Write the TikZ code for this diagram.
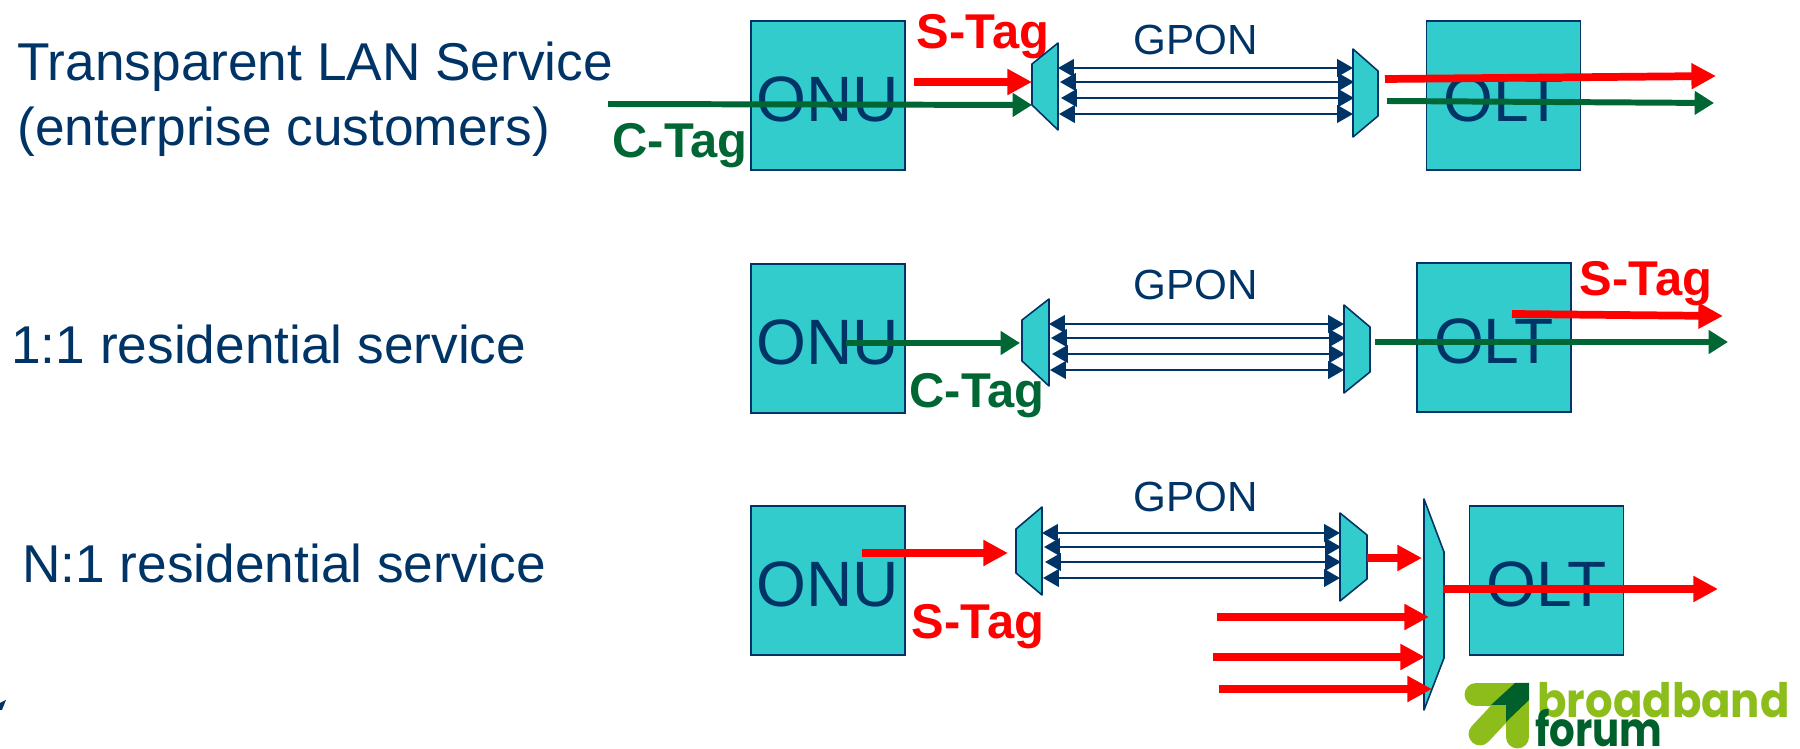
\documentclass[tikz,border=0pt]{standalone}
\usepackage{fontspec}
\setmainfont{Liberation Sans}
\newfontfamily\logofont[FakeStretch=0.85]{Poppins}
\newfontfamily\logowide[FakeStretch=0.915]{Poppins}
\usepackage{xcolor}
\usetikzlibrary{arrows.meta,positioning,calc}
\definecolor{navyblue}{HTML}{003366}
\definecolor{tealfill}{HTML}{33CCCC}
\definecolor{tagred}{HTML}{FF0000}
\definecolor{taggreen}{HTML}{006633}
\definecolor{logolight}{HTML}{8CBD1A}
\definecolor{logodark}{HTML}{00602B}
\begin{document}
\begin{tikzpicture}[
    x=0.02cm, y=-0.02cm,
    boxnode/.style={rectangle, draw=navyblue, fill=tealfill, line width=0.9pt, minimum width=3.08cm, minimum height=2.98cm, inner sep=0pt, text=navyblue, font=\fontsize{36.5}{36.5}\selectfont, text height=30pt, text depth=0pt},
    muxshape/.style={draw=navyblue, fill=tealfill, line width=0.9pt, line join=round},
    svctext/.style={anchor=west, inner sep=0pt, text=navyblue, font=\fontsize{30.3}{30.3}\selectfont},
    gponlabel/.style={inner sep=0pt, text=navyblue, font=\fontsize{24}{24}\selectfont},
    stag/.style={inner sep=0pt, text=tagred, font=\fontsize{27.8}{27.8}\selectfont\bfseries},
    ctag/.style={inner sep=0pt, text=taggreen, font=\fontsize{27.8}{27.8}\selectfont\bfseries},
    fiber/.style={navyblue, line width=1.2pt, {Triangle[length=9pt,width=10pt]}-{Triangle[length=9pt,width=10pt]}},
    redarr/.style={tagred, line width=4.4pt, -{Triangle[length=14pt,width=14pt]}},
    greenarr/.style={taggreen, line width=3.4pt, -{Triangle[length=11pt,width=13pt]}},
    logotext/.style={inner sep=0pt, anchor=base west}
]
    \useasboundingbox (0,0) rectangle (1800,749);

    % Service names
    \node[svctext] (svc1a) at (17, 67) {Transparent LAN Service};
    \node[svctext] (svc1b) at (17, 132) {(enterprise customers)};
    \node[svctext] (svc2) at (11, 344) {1:1 residential service};
    \node[svctext] (svc3) at (22, 563) {N:1 residential service};
    \fill[navyblue] (0,703) -- (6,700) -- (2,710) -- (0,710) -- cycle;

    % ONU and OLT
    \foreach \n/\t/\x/\y in {onu1/ONU/828/95.5, olt1/OLT/1503.5/95.5, onu2/ONU/828/338.5, olt2/OLT/1494/337.5, onu3/ONU/828/580.5, olt3/OLT/1546.5/580.5} {
        \node[boxnode] (\n) at (\x, \y) {\t};
    }

    % Tags
    \node[stag] (st1) at (983, 37) {S-Tag};
    \node[ctag] (ct1) at (680, 146) {C-Tag};
    \node[stag] (st2) at (1646, 284) {S-Tag};
    \node[ctag] (ct2) at (977, 396) {C-Tag};
    \node[stag] (st3) at (978, 627) {S-Tag};

    % GPON
    \foreach \n/\y in {g1/40, g2/285, g3/497} {
        \node[gponlabel] (\n) at (1196, \y) {GPON};
    }

    % Muxes: name, left x, right x, four y values
    \foreach \n/\xa/\xb/\ya/\yb/\yc/\yd in {ma/1032/1058/64/43/130/105, mb/1353/1378/49/71/116/137, mc/1022/1049/320/299/386/361, md/1344/1370/305/327/372/393, me/1016/1042/529/507/595/573, mf/1340/1367/513/535/579/601, mg/1424/1444/499/552/658/710} {
        \draw[muxshape] (\xa,\ya) -- (\xb,\yb) -- (\xb,\yc) -- (\xa,\yd) -- cycle;
    }

    % Fibres
    \foreach \r/\xa/\xb/\ya/\yb/\yc/\yd in {r1/1058/1353/68/82/98/114, r2/1049/1344/324/338/354/370, r3/1042/1340/533/547/562/578} {
        \coordinate (\r a1) at (\xa, \ya);
        \coordinate (\r b1) at (\xb, \ya);
        \coordinate (\r a2) at (\xa+2, \yb);
        \coordinate (\r b2) at (\xb+1, \yb);
        \coordinate (\r a3) at (\xa+3, \yc);
        \coordinate (\r b3) at (\xb+1, \yc);
        \coordinate (\r a4) at (\xa+1, \yd);
        \coordinate (\r b4) at (\xb, \yd);
        \foreach \k in {1,2,3,4} {
            \draw[fiber] (\r a\k) -- (\r b\k);
        }
    }

    % Arrow ends
    \coordinate (a1s) at (608, 104);
    \coordinate (a1e) at (1032, 105);
    \coordinate (a2s) at (914, 82);
    \coordinate (a2e) at (1032, 82);
    \coordinate (a3s) at (1385, 79);
    \coordinate (a3e) at (1716, 76);
    \coordinate (a4s) at (1387, 101);
    \coordinate (a4e) at (1714, 103);
    \coordinate (b1s) at (846, 343);
    \coordinate (b1e) at (1020, 343);
    \coordinate (b2s) at (1375, 342);
    \coordinate (b2e) at (1728, 342);
    \coordinate (b3s) at (1512, 314);
    \coordinate (b3e) at (1723, 316);
    \coordinate (c1s) at (862, 553);
    \coordinate (c1e) at (1008, 553);
    \coordinate (c2s) at (1367, 558);
    \coordinate (c2e) at (1422, 558);
    \coordinate (c3s) at (1443, 589);
    \coordinate (c3e) at (1718, 589);
    \coordinate (c4s) at (1217, 617);
    \coordinate (c4e) at (1429, 617);
    \coordinate (c5s) at (1213, 657);
    \coordinate (c5e) at (1425, 657);
    \coordinate (c6s) at (1219, 689);
    \coordinate (c6e) at (1432, 689);

    \foreach \a in {a2,a3,b3,c1,c2,c3,c4,c5,c6} {
        \draw[redarr] (\a s) -- (\a e);
    }
    \foreach \a in {a1,a4,b1,b2} {
        \draw[greenarr] (\a s) -- (\a e);
    }

    % Logo
    \draw[logolight, line width=13pt, line cap=round] (1476,694.5) -- (1517.5,694.5) -- (1517.5,737);
    \draw[logolight, line width=13pt, line cap=round] (1510,702) -- (1480,734);
    \fill[logodark] (1529,683) -- (1515,683) -- (1491,705) -- (1506,705) -- (1506,722) -- (1529,700) -- cycle;
    \node[logotext, text=logolight, font=\logowide\bfseries\fontsize{27}{27}\selectfont] (logo1) at (1537, 718) {broadband};
    \node[logotext, text=logodark, font=\logofont\bfseries\fontsize{27}{27}\selectfont] (logo2) at (1535, 747) {forum};
\end{tikzpicture}
\end{document}
